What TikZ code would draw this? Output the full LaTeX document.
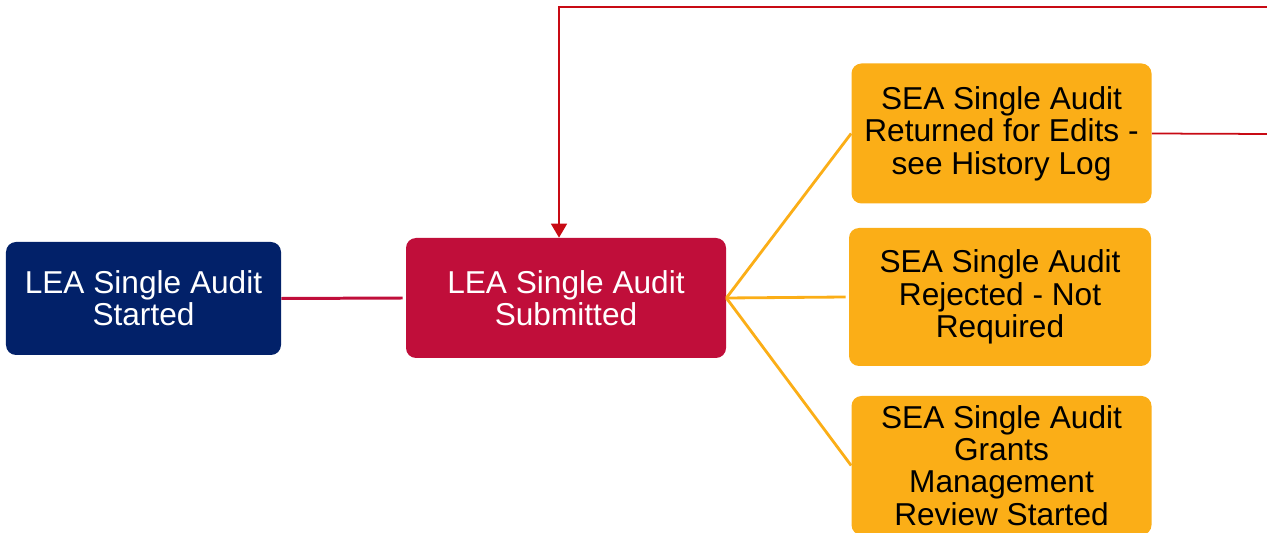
\documentclass[tikz,border=0pt]{standalone}
\usepackage{fontspec}
\setmainfont{Liberation Sans}
\usetikzlibrary{arrows.meta}
\definecolor{leablue}{RGB}{2,33,105}
\definecolor{leared}{RGB}{192,14,58}
\definecolor{seaorange}{RGB}{251,174,23}
\definecolor{backred}{RGB}{200,10,20}

\begin{document}
\begin{tikzpicture}
   [
   leabox/.style={rectangle, rounded corners=0.2cm, fill=leablue, text=white, align=center, font=\fontsize{18}{18.4}\selectfont, minimum width=5.5cm, minimum height=2.26cm},
   subbox/.style={rectangle, rounded corners=0.2cm, fill=leared, text=white, align=center, font=\fontsize{18}{18.4}\selectfont, minimum width=6.4cm, minimum height=2.4cm},
   seabox/.style={rectangle, rounded corners=0.2cm, fill=seaorange, text=black, align=center, font=\fontsize{18}{18.4}\selectfont, inner sep=0pt, minimum width=6cm, minimum height=2.8cm},
   redlink/.style={draw=leared, line width=1.7pt},
   seallink/.style={draw=seaorange, line width=1.6pt},
   backlink/.style={draw=backred, line width=1pt},
   ]
 \useasboundingbox (0,0) rectangle (25.34,-10.66);
 \begin{scope}
 \clip (0,0) rectangle (25.34,-10.66);
 \node at (2.87,-5.97) [leabox] (started) {LEA Single Audit\\Started};
 \node at (11.32,-5.96) [subbox] (submitted) {LEA Single Audit\\Submitted};
 \node at (20.03,-2.67) [seabox] (returned) {SEA Single Audit\\Returned for Edits -\\see History Log};
 \node at (20.0,-5.94) [seabox, minimum width=6.04cm, minimum height=2.76cm] (rejected) {SEA Single Audit\\Rejected - Not\\Required};
 \node at (20.03,-9.31) [seabox, minimum height=2.78cm] (review) {SEA Single Audit\\Grants\\Management\\Review Started};
 \end{scope}
 % free ends at the right edge
 \coordinate (topright) at (25.34,-0.14);
 \coordinate (corner) at (11.18,-0.14);
 \coordinate (retright) at (25.34,-2.68);
 \draw[redlink] (started.east) -- ([xshift=-0.06cm]submitted.west);
 \draw[seallink] (submitted.east) -- (returned.west);
 \draw[seallink] (submitted.east) -- ([xshift=-0.06cm]rejected.west);
 \draw[seallink] (submitted.east) -- (review.west);
 \draw[backlink] (returned.east) -- (retright);
 \draw[backlink, -{Triangle[width=0.32cm, length=0.28cm]}] (topright) -- (corner) -- (corner |- submitted.north);
\end{tikzpicture}
\end{document}
